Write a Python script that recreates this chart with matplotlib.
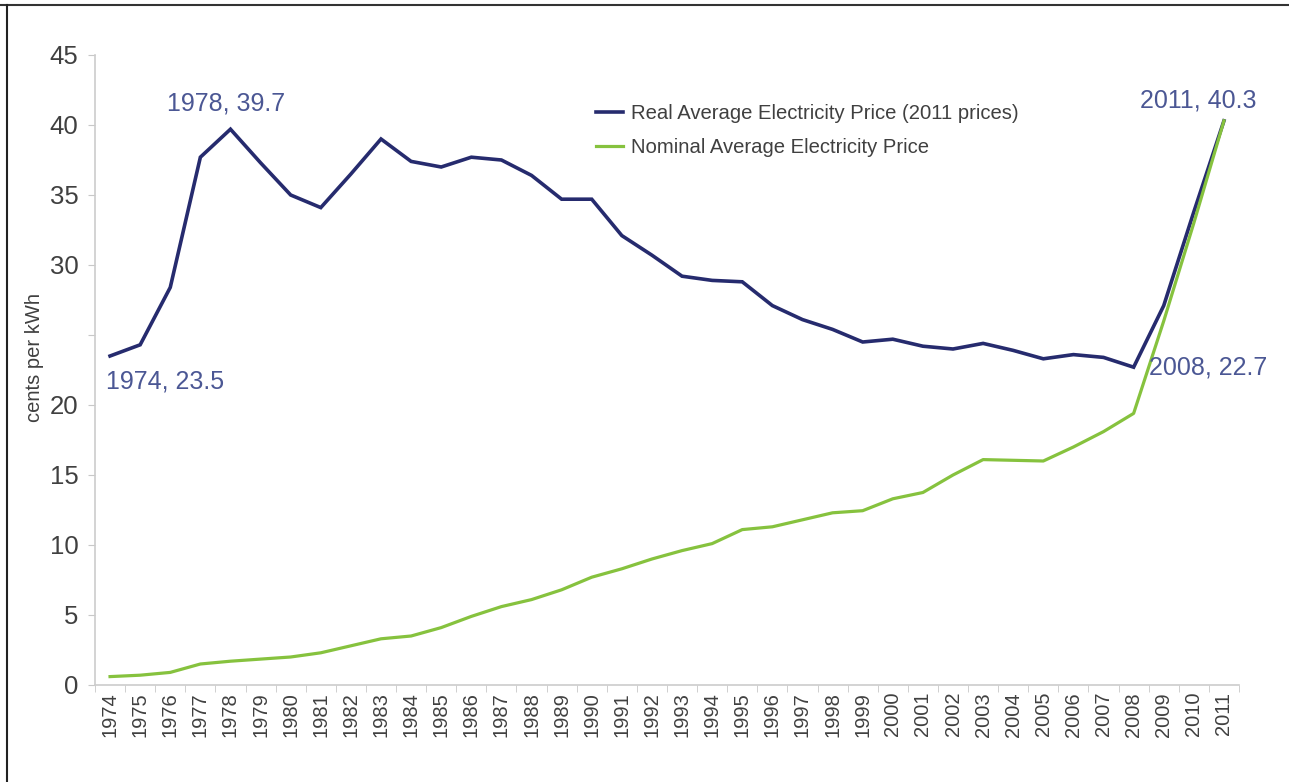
import numpy as np
import matplotlib
matplotlib.use("Agg")
import matplotlib.pyplot as plt
from matplotlib.lines import Line2D

plt.rcParams["font.family"] = ["Liberation Sans", "DejaVu Sans"]

years = list(range(1974, 2012))
real_price = [23.5, 24.3, 28.4, 37.7, 39.7, 37.3, 35.0, 34.1, 36.5, 39.0,
              37.4, 37.0, 37.7, 37.5, 36.4, 34.7, 34.7, 32.1, 30.7, 29.2,
              28.9, 28.8, 27.1, 26.1, 25.4, 24.5, 24.7, 24.2, 24.0, 24.4,
              23.9, 23.3, 23.6, 23.4, 22.7, 27.1, 33.8, 40.3]
nominal_price = [0.6, 0.7, 0.9, 1.5, 1.7, 1.85, 2.0, 2.3, 2.8, 3.3,
                 3.5, 4.1, 4.9, 5.6, 6.1, 6.8, 7.7, 8.3, 9.0, 9.6,
                 10.1, 11.1, 11.3, 11.8, 12.3, 12.45, 13.3, 13.75, 15.0, 16.1,
                 16.05, 16.0, 17.0, 18.1, 19.4, 26.0, 33.0, 40.3]
y_ticks = [0, 5, 10, 15, 20, 25, 30, 35, 40, 45]
y_tick_labels = ["0", "5", "10", "15", "20", "", "30", "35", "40", "45"]

# (year, offset in pixels) for the point labels
callouts = [(1974, (55, -25)), (1978, (-4, 26)), (2008, (74, 0)), (2011, (-26, 20))]

real_col = "#262b6e"
nom_col = "#86c23e"
lab_col = "#4b5794"
text_col = "#404040"

fig = plt.figure(figsize=(12.89, 7.82), dpi=100)
ax = fig.add_axes([95 / 1289, 1 - 685 / 782, (1239 - 95) / 1289, 630 / 782])

x = np.arange(len(years))
ax.plot(x, real_price, color=real_col, lw=2.6, solid_joinstyle="miter",
        label="Real Average Electricity Price (2011 prices)")
ax.plot(x, nominal_price, color=nom_col, lw=2.3,
        label="Nominal Average Electricity Price")

for yr, off in callouts:
    i = years.index(yr)
    ax.annotate(f"{yr}, {real_price[i]}", (x[i], real_price[i]), xytext=off,
                textcoords="offset pixels", ha="center", va="center",
                fontsize=18, color=lab_col)

ax.set_xlim(-0.5, len(years) - 0.5)
ax.set_ylim(0, 45)
ax.set_yticks(y_ticks)
ax.set_yticklabels(y_tick_labels)
ax.set_xticks(x)
ax.set_xticklabels([str(y) for y in years], rotation=90)
ax.set_xticks(np.arange(len(years) + 1) - 0.5, minor=True)
ax.tick_params(axis="x", which="major", length=0, pad=5, labelsize=14.5, labelcolor=text_col)
ax.tick_params(axis="x", which="minor", length=5, color="#c8c8c8")
ax.tick_params(axis="y", length=5, color="#c8c8c8", pad=7, labelsize=18.5, labelcolor=text_col)

for s in ["top", "right"]:
    ax.spines[s].set_visible(False)
for s in ["left", "bottom"]:
    ax.spines[s].set_color("#cccccc")
    ax.spines[s].set_linewidth(1.2)

ax.set_ylabel("cents per kWh", fontsize=14.5, color=text_col)
ax.yaxis.set_label_coords(-0.045, 0.52)

ax.legend(loc="upper left", bbox_to_anchor=(586 / 1289, 1 - 94 / 782),
          bbox_transform=fig.transFigure, frameon=False, fontsize=14.6,
          handlelength=1.3, handletextpad=0.4, borderpad=0, labelspacing=0.75,
          labelcolor=text_col)

# thin frame on top and left of the picture
fig.add_artist(Line2D([0, 1], [1 - 5 / 782] * 2, color="#333333", lw=1.5,
                      transform=fig.transFigure))
fig.add_artist(Line2D([7 / 1289] * 2, [0, 1 - 5 / 782], color="#222222", lw=1.5,
                      transform=fig.transFigure))

fig.savefig("out.png", dpi=100)
